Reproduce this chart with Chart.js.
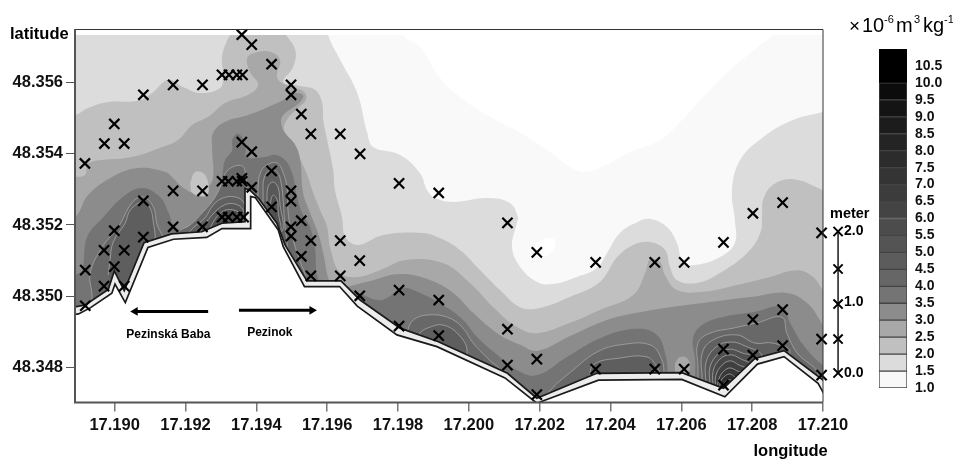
<!DOCTYPE html>
<html>
<head>
<meta charset="utf-8">
<style>
html,body{margin:0;padding:0;background:#fff;width:953px;height:460px;overflow:hidden}
#map{position:absolute;left:0;top:0}
#bar{position:absolute;left:860px;top:40px}
#meter{position:absolute;left:826px;top:200px}
</style>
<script src="https://cdn.jsdelivr.net/npm/chart.js@4/dist/chart.umd.min.js"></script>
</head>
<body>
<canvas id="map" width="953" height="460"></canvas>
<canvas id="bar" width="93" height="360"></canvas>
<canvas id="meter" width="60" height="200"></canvas>
<script>
// axis ticks
const lonTicks = [17.190,17.192,17.194,17.196,17.198,17.200,17.202,17.204,17.206,17.208,17.210];
const latTicks = [48.348,48.350,48.352,48.354,48.356];
// measurement sites [lon, lat]
const sites = [[17.19359,48.35735],[17.19387,48.35707],[17.19443,48.35652],[17.19303,48.35622],[17.19323,48.35622],[17.19345,48.35622],[17.19361,48.35622],
[17.19498,48.35594],[17.19498,48.35566],[17.19527,48.35512],[17.19554,48.35456],[17.19637,48.35456],[17.19693,48.354],[17.19803,48.35317],[17.19915,48.3529],
[17.19165,48.35594],[17.19248,48.35594],[17.19081,48.35566],[17.18999,48.35484],[17.18971,48.35429],[17.19027,48.35429],[17.18916,48.35373],
[17.19359,48.35433],[17.19387,48.35406],[17.19443,48.35352],[17.19303,48.35323],[17.19321,48.35323],[17.19345,48.35323],[17.19359,48.35331],[17.1936,48.35323],[17.19387,48.35306],
[17.19165,48.35296],[17.19248,48.35296],[17.19081,48.35268],[17.19498,48.35296],[17.19498,48.35267],[17.19443,48.35251],
[17.19303,48.35222],[17.19321,48.35222],[17.19345,48.35222],[17.19364,48.35222],[17.19527,48.35212],[17.19498,48.35195],[17.19165,48.35195],[17.19248,48.35195],
[17.18999,48.35184],[17.19081,48.35166],[17.19498,48.35169],[17.19554,48.35156],[17.19637,48.35156],[17.1897,48.35129],[17.19027,48.35129],[17.19527,48.35112],[17.19692,48.351],
[17.18999,48.35083],[17.18917,48.35073],[17.19554,48.35057],[17.19637,48.35057],[17.1897,48.35028],[17.19027,48.35028],[17.19692,48.35001],[17.19803,48.35017],[17.19915,48.34989],
[17.18917,48.34973],[17.19803,48.34916],[17.19915,48.34889],
[17.20109,48.35206],[17.20192,48.35123],[17.20358,48.35095],[17.20525,48.35095],[17.20608,48.35095],[17.20719,48.35151],[17.20802,48.35233],[17.20886,48.35263],[17.20996,48.35178],
[17.20109,48.34907],[17.20109,48.34806],[17.20192,48.34823],[17.20192,48.34723],[17.20358,48.34795],[17.20525,48.34795],[17.20608,48.34795],[17.20719,48.34851],[17.20719,48.3475],
[17.20802,48.34934],[17.20802,48.34834],[17.20886,48.34962],[17.20886,48.34861],[17.20996,48.34879],[17.20996,48.34778]];

// contour outlines: offsets [east, north] in 0.001 deg from 17.190 E, 48.348 N
const level10 = [[-1.54,9.76],[8.14,9.76],[8.14,9.34],[8.62,9.0],[9.19,8.13],[9.75,7.6],[10.6,7.04],[11.45,6.59],[12.29,6.05],[12.86,5.63],[13.2,5.49],[13.7,5.6],[14.55,6.05],[15.4,6.39],[15.97,6.9],[16.53,7.51],[17.38,8.36],[18.23,9.06],[18.57,9.34],[18.65,9.76],[20.48,9.76],[20.48,-1.48],[-1.54,-1.48]];
const level15 = [[6.03,9.76],[6.03,9.34],[6.37,8.64],[6.85,7.71],[7.13,6.59],[7.3,6.19],[8.06,5.97],[8.62,5.46],[8.82,4.98],[9.05,4.76],[9.56,4.65],[10.52,4.76],[11.16,4.62],[11.39,4.22],[11.36,4.08],[11.22,3.38],[11.45,2.82],[11.93,2.4],[12.38,2.34],[13.05,2.54],[13.62,2.79],[13.9,3.21],[14.27,3.78],[14.75,4.08],[15.12,4.17],[15.6,3.94],[15.88,3.49],[16.05,2.93],[16.44,2.88],[17.09,3.1],[17.51,3.49],[17.51,4.14],[17.43,4.98],[17.66,5.83],[18.31,6.47],[19.15,6.95],[20.0,7.18],[20.48,7.29],[20.48,-1.48],[-1.54,-1.48],[-1.54,9.76]];
const level20 = [[-1.54,7.09],[-1.12,7.09],[-0.75,7.29],[-0.18,7.46],[0.66,7.49],[1.06,7.71],[1.51,8.08],[1.93,7.88],[2.41,7.71],[2.98,7.85],[3.06,8.16],[3.03,8.72],[3.18,9.2],[3.35,9.48],[3.35,9.76],[4.67,9.76],[4.81,9.4],[5.1,8.92],[5.04,8.44],[4.76,8.02],[5.24,7.91],[5.66,7.8],[5.86,7.43],[5.89,6.95],[6.0,6.39],[6.17,5.55],[6.22,4.98],[6.42,4.22],[6.51,3.66],[6.87,3.44],[7.58,3.72],[8.62,3.78],[9.19,3.63],[9.75,3.3],[10.32,2.73],[10.88,2.17],[11.45,1.69],[12.01,1.67],[12.86,1.98],[13.7,2.4],[14.19,3.1],[14.64,3.44],[15.12,3.52],[15.54,3.3],[15.68,2.82],[15.88,2.45],[16.44,2.37],[17.09,2.65],[17.86,3.21],[18.23,3.78],[18.28,4.28],[18.31,4.71],[18.59,5.13],[19.15,5.29],[20.0,4.98],[20.48,4.79],[20.48,-1.48],[-1.54,-1.48]];
const level25 = [[-1.54,5.35],[-1.12,5.35],[-0.83,5.41],[-0.75,5.74],[0.49,5.91],[1.34,6.19],[1.79,6.39],[2.19,6.81],[2.64,7.04],[3.12,7.43],[3.77,7.66],[4.05,7.94],[3.82,8.3],[3.74,8.69],[3.97,8.84],[4.39,8.87],[4.67,8.64],[4.59,8.13],[4.9,7.91],[5.32,7.77],[5.41,7.54],[5.18,7.29],[4.9,7.01],[4.78,6.67],[5.04,6.25],[5.29,5.74],[5.46,5.35],[5.58,4.98],[5.8,4.42],[6.0,3.94],[6.08,3.38],[6.37,2.65],[6.85,2.54],[7.49,2.73],[8.26,3.02],[9.27,2.93],[10.03,2.37],[10.69,1.69],[11.36,1.13],[11.93,0.96],[12.86,1.25],[13.7,1.61],[14.64,2.03],[14.98,2.65],[15.12,3.04],[15.4,2.96],[15.54,2.59],[15.88,2.17],[16.61,2.12],[17.57,2.31],[18.5,2.54],[19.27,2.73],[19.72,2.54],[20.06,2.12],[20.48,1.89],[20.48,-1.48],[-1.54,-1.48]];
const level30 = [[-1.54,4.22],[-1.12,4.22],[-0.75,4.84],[-0.07,5.35],[0.66,5.6],[1.43,5.49],[1.62,5.35],[1.91,5.07],[2.27,4.9],[2.64,5.07],[2.78,5.35],[2.75,6.19],[2.78,6.59],[3.12,6.9],[3.77,7.09],[4.59,7.43],[4.9,7.6],[5.1,7.71],[5.32,7.65],[5.24,7.46],[4.76,7.09],[4.7,6.87],[4.81,6.59],[5.1,6.25],[5.24,5.83],[5.32,4.9],[5.52,4.34],[5.74,3.78],[5.89,3.21],[6.03,2.51],[6.22,2.12],[6.56,2.26],[7.3,2.45],[8.06,2.62],[8.91,2.45],[9.56,2.09],[10.12,1.53],[10.8,0.96],[11.45,0.63],[11.93,0.46],[12.86,0.88],[13.9,1.33],[14.75,1.53],[15.68,1.69],[16.61,1.81],[18.02,1.98],[18.98,2.09],[19.55,1.81],[19.91,1.33],[20.2,0.82],[20.48,0.63],[20.48,-1.48],[-1.54,-1.48]];
const level35a = [[-1.54,2.17],[-1.12,2.59],[-0.92,2.73],[-0.78,3.66],[-0.32,4.22],[0.3,4.84],[0.78,5.04],[1.28,4.79],[1.51,4.37],[1.71,3.92],[2.07,3.92],[2.47,4.34],[2.84,4.62],[3.01,5.12],[3.06,5.55],[3.12,5.83],[3.32,6.11],[3.32,6.39],[3.49,6.56],[3.71,6.25],[3.71,5.91],[4.25,5.91],[4.53,5.97],[4.81,5.83],[5.01,5.46],[5.15,4.79],[5.29,4.34],[5.52,3.94],[5.66,3.3],[5.74,2.51],[6.08,2.17],[6.51,2.12],[6.87,2.09],[7.41,1.89],[7.69,1.95],[8.12,2.23],[8.62,2.09],[9.27,1.75],[9.84,1.33],[10.23,0.85],[10.8,0.35],[11.36,-0.08],[11.93,-0.22],[12.77,0.29],[13.79,0.85],[14.75,1.08],[15.31,0.91],[15.54,0.4],[15.62,-0.24],[15.62,-1.48],[-1.54,-1.48]];
const level35b = [[16.39,-0.24],[16.39,0.21],[16.33,0.82],[16.59,1.19],[17.29,1.44],[18.02,1.55],[18.84,1.7],[19.07,1.25],[19.44,0.63],[20.0,0.06],[20.48,-0.13],[20.48,-1.48],[16.39,-1.48]];
const level40a = [[-0.64,1.61],[-0.64,2.03],[-0.69,2.65],[-0.35,3.38],[0.1,3.94],[0.49,4.62],[0.8,4.79],[1.09,4.51],[1.2,4.0],[1.37,3.63],[1.43,3.02],[0.16,1.61]];
const level45a = [[-0.18,2.59],[-0.13,3.02],[-0.04,3.52],[0.3,4.06],[0.44,4.42],[0.8,4.65],[1.0,4.48],[1.09,4.09],[1.14,3.58],[1.0,2.73],[0.16,1.89]];
const level40b = [[1.79,3.58],[1.79,3.8],[2.13,4.0],[2.5,4.37],[2.84,4.79],[3.03,5.18],[3.2,5.55],[3.6,5.66],[3.71,5.32],[3.74,4.93],[3.82,3.58]];
const level45b = [[2.07,3.58],[2.13,3.83],[2.55,4.2],[2.78,4.56],[3.06,4.76],[3.4,4.79],[3.63,4.65],[3.74,4.28],[3.82,3.58]];
const level50b = [[2.36,3.58],[2.41,3.8],[2.75,4.28],[3.09,4.56],[3.4,4.59],[3.63,4.42],[3.68,4.09],[3.77,3.58]];
const level55b = [[2.64,3.58],[2.7,3.92],[3.03,4.37],[3.37,4.42],[3.6,4.25],[3.68,4.03],[3.71,3.58]];
const level40c = [[4.05,4.7],[4.05,5.04],[4.11,5.46],[4.3,5.69],[4.59,5.74],[4.76,5.46],[4.87,5.04],[4.9,4.34],[5.04,3.58],[5.24,2.96],[5.38,2.51],[5.24,2.17],[4.39,3.58]];
const level45c = [[4.19,4.56],[4.19,4.84],[4.22,5.32],[4.39,5.55],[4.59,5.49],[4.7,5.18],[4.76,4.65],[4.81,3.94],[4.87,3.44],[4.81,3.02],[4.53,3.86]];
const level50c = [[4.3,4.56],[4.33,5.07],[4.47,5.21],[4.62,5.04],[4.67,4.56],[4.76,3.92],[4.62,3.72]];
const level55c = [[4.39,4.42],[4.39,4.56],[4.47,4.84],[4.59,4.7],[4.62,4.34],[4.7,3.86],[4.56,3.97]];
const level40d = [[8.2,0.63],[8.28,1.05],[8.43,1.33],[8.82,1.47],[9.39,1.41],[9.81,1.13],[10.12,0.68],[10.52,0.26],[10.88,-0.13],[10.03,-0.35],[8.62,0.49]];
const level45d = [[8.56,0.63],[8.62,0.96],[8.91,1.13],[9.27,1.19],[9.67,0.96],[9.95,0.49],[9.75,0.06],[9.19,0.49]];
const level40e = [[12.15,-1.06],[12.24,-0.72],[12.94,-0.08],[13.62,0.43],[14.27,0.63],[15.12,0.63],[15.45,0.21],[15.51,-0.24],[15.51,-0.92]];
const level45e = [[13.42,-0.5],[13.51,0.06],[14.27,0.26],[15.03,0.29],[15.31,0.01],[15.4,-0.24],[15.12,-0.64]];
const level40f = [[16.47,-0.5],[16.47,0.01],[16.47,0.68],[16.81,0.96],[17.46,1.1],[18.14,1.25],[18.84,1.41],[18.98,0.96],[19.27,0.4],[19.86,-0.21],[19.35,-0.78],[17.09,-0.78]];
const level45f = [[16.59,-0.36],[16.59,0.4],[16.9,0.77],[17.57,0.91],[18.08,0.68],[18.59,0.68],[19.07,0.43],[18.5,-0.36],[17.09,-0.78]];
const level50f = [[16.7,-0.5],[16.7,0.15],[16.98,0.57],[17.38,0.71],[17.8,0.6],[18.28,0.29],[17.8,-0.78]];
const level55f = [[16.81,-0.5],[16.81,0.01],[17.07,0.4],[17.38,0.51],[17.72,0.4],[18.08,0.26],[17.66,-0.78]];
const level60f = [[16.9,-0.58],[16.9,-0.1],[17.09,0.23],[17.38,0.35],[17.69,0.23],[17.94,0.06],[17.51,-0.78]];
const level65f = [[16.96,-0.58],[16.98,-0.21],[17.15,0.06],[17.38,0.18],[17.63,0.06],[17.86,-0.07],[17.51,-0.78]];
const level70f = [[17.01,-0.58],[17.07,-0.3],[17.21,-0.1],[17.38,-0.02],[17.57,-0.1],[17.77,-0.21],[17.46,-0.78]];
const level75f = [[17.07,-0.58],[17.12,-0.38],[17.24,-0.24],[17.38,-0.19],[17.51,-0.27],[17.69,-0.35],[17.43,-0.78]];
const level80f = [[17.12,-0.64],[17.18,-0.47],[17.29,-0.38],[17.38,-0.35],[17.46,-0.41],[17.6,-0.5],[17.38,-0.78]];
const level85f = [[17.18,-0.64],[17.24,-0.55],[17.32,-0.5],[17.4,-0.53],[17.51,-0.58],[17.32,-0.78]];
const islandLow = [[2.13,5.18],[2.27,5.49],[2.5,5.46],[2.64,5.18],[2.61,4.84],[2.33,4.82],[2.16,4.93]];
const islandSmall = [[3.68,6.19],[3.97,6.31],[4.11,6.16],[3.91,5.97],[3.74,5.97]];
const islandRight = [[15.82,0.12],[15.96,0.29],[16.16,0.26],[16.25,-0.02],[16.1,-0.22],[15.82,-0.22]];
const islandWhite = [[11.87,3.49],[12.21,3.63],[12.43,3.58],[12.38,3.3],[12.01,3.07],[11.87,3.3]];
const topMask = [[-1.6,9.34],[20.5,9.34],[20.5,10],[-1.6,10]];
// terrain edge
const edgeUpper = [[-1.54,1.7],[-1.12,1.7],[-0.83,1.75],[-0.18,2.19],[-0.01,2.71],[0.27,2.15],[0.83,3.5],[1.61,3.75],[2.46,3.81],[3.03,4.05],[3.68,4.09],[3.68,5.03],[3.82,4.98],[4.06,4.75],[4.58,4.05],[4.81,3.44],[5.43,2.43],[6.39,2.43],[6.93,1.89],[8.06,1.1],[9.14,0.72],[11.09,-0.17],[11.92,-0.87],[13.61,-0.17],[16.01,-0.15],[17.19,-0.59],[18.08,0.25],[18.9,0.47],[20.0,-0.36],[20.48,-0.78],[20.48,-1.6],[-1.54,-1.6]];
const edgeLower = [[-1.54,1.44],[-1.02,1.5],[-0.69,1.67],[-0.08,2.08],[0.01,2.34],[0.3,1.82],[0.94,3.37],[1.66,3.6],[2.6,3.65],[3.03,3.9],[3.84,3.9],[3.84,4.8],[3.97,4.77],[4.62,3.86],[4.76,3.39],[5.36,2.27],[6.35,2.27],[6.85,1.72],[7.97,0.91],[9.1,0.58],[11.02,-0.3],[11.92,-1.01],[13.66,-0.36],[16.01,-0.34],[17.23,-0.83],[18.15,0.09],[18.9,0.3],[19.86,-0.45],[20.0,-0.7],[20.48,-1.6],[-1.54,-1.6]];
// extras
const arrowWest = [[2.64,1.57],[0.58,1.57]];
const arrowEast = [[3.51,1.6],[5.57,1.6]];
// metre scale (separate small axis)
const meterMarks = [2.0,1.47,0.975,0.48,0.0];
const meterTicks = [0,1,2];
// colour key
const keyEdges = [1,1.5,2,2.5,3,3.5,4,4.5,5,5.5,6,6.5,7,7.5,8,8.5,9,9.5,10,11];
const keyColors = ['#f8f8f8','#dcdcdc','#c0c0c0','#a8a8a8','#8c8c8c','#747474','#666666','#5c5c5c','#545454','#4c4c4c','#444444','#3c3c3c','#343434','#2c2c2c','#242424','#1c1c1c','#141414','#0c0c0c','#000000'];
const keyTicks = [1,1.5,2,2.5,3,3.5,4,4.5,5,5.5,6,6.5,7,7.5,8,8.5,9,9.5,10,10.5];

const LON0 = 17.19, LAT0 = 48.348;
const toPts = a => a.map(p => ({x: LON0 + p[0]/1000, y: LAT0 + p[1]/1000}));
const FONT = '"Liberation Sans", Arial, sans-serif';
const INK = '#1a1a1a';
const THIN = '#a6a6a6';

const layers = [
  [level10,'#f9f9f9',0,0.4],[level15,'#dcdcdc',0,0.4],[islandWhite,'#ffffff',0,0.4],[level20,'#c0c0c0',0,0.4],[level25,'#a8a8a8',0,0.4],[level30,'#8c8c8c',0,0.4],[islandLow,'#c4c4c4',0,0.4],
  [level35a,'#747474',0,0.4],[level35b,'#747474',0,0.4],[islandSmall,'#8c8c8c',0,0.4],[islandRight,'#a8a8a8',0,0.4],
  [level40a,'#666666',.8,0.4],[level45a,'#5e5e5e',.8,0.4],[level40b,'#686868',.8,0.4],[level45b,'#606060',.8,0.4],[level50b,'#585858',.8,0.4],[level55b,'#505050',.8,0.4],
  [level40c,'#686868',.8,0.4],[level45c,'#606060',.8,0.4],[level50c,'#585858',.8,0.4],[level55c,'#505050',.8,0.4],
  [level40d,'#686868',.8,0.4],[level45d,'#5e5e5e',.8,0.4],[level40e,'#686868',.8,0.4],[level45e,'#5e5e5e',.8,0.4],[level40f,'#686868',.8,0.4],[level45f,'#606060',.8,0.4],
  [level50f,'#585858',.8,0.4],[level55f,'#505050',.8,0.4],[level60f,'#484848',.8,0.4],[level65f,'#404040',.8,0.4],[level70f,'#383838',.8,0.4],[level75f,'#303030',.8,0.4],[level80f,'#282828',.8,0.4],[level85f,'#202020',.8,0.4]
];

const paint = [];
layers.forEach(l => paint.push({
  data: toPts(l[0]), showLine:true, fill:'shape', backgroundColor:l[1],
  borderColor: l[2] ? THIN : 'rgba(0,0,0,0)', borderWidth:l[2], tension:l[3], pointRadius:0
}));
paint.push({data:toPts(topMask),showLine:true,fill:'shape',backgroundColor:'#fff',borderWidth:0,borderColor:'rgba(0,0,0,0)',tension:0,pointRadius:0});
paint.push({data:toPts(edgeUpper),showLine:true,fill:'shape',backgroundColor:'#ececec',borderColor:INK,borderWidth:1.7,tension:0,pointRadius:0});
paint.push({data:toPts(edgeLower),showLine:true,fill:'shape',backgroundColor:'#ffffff',borderColor:INK,borderWidth:1.7,tension:0,pointRadius:0});
paint.push({data:toPts(arrowWest),showLine:true,borderColor:'#000',borderWidth:3,tension:0,pointStyle:'triangle',pointRotation:-90,pointRadius:[0,5],backgroundColor:'#000',pointBorderWidth:0});
paint.push({data:toPts(arrowEast),showLine:true,borderColor:'#000',borderWidth:3,tension:0,pointStyle:'triangle',pointRotation:90,pointRadius:[0,5],backgroundColor:'#000',pointBorderWidth:0});
paint.push({data:sites.map(p=>({x:p[0],y:p[1]})),pointStyle:'crossRot',pointRadius:7.2,pointBorderWidth:2.2,borderColor:'#000',backgroundColor:'#000',showLine:false,clip:false});
paint.forEach((d,i)=>{d.order = paint.length - i;});

const annotate = {
  id:'annotate',
  afterDatasetsDraw(c){
    const {ctx,chartArea:a,scales:{x,y}} = c;
    ctx.save();
    // frame
    ctx.strokeStyle='#333'; ctx.lineWidth=1; ctx.beginPath();
    ctx.moveTo(a.left,a.top+.5); ctx.lineTo(a.right,a.top+.5); ctx.lineTo(a.right,a.bottom); ctx.stroke();
    ctx.strokeStyle='#555'; ctx.lineWidth=2; ctx.beginPath();
    ctx.moveTo(a.left,a.top); ctx.lineTo(a.left,a.bottom); ctx.lineTo(a.right,a.bottom); ctx.stroke();
    const put=(t,px,py,font,al)=>{ctx.font=font;ctx.fillStyle='#000';ctx.textAlign=al||'left';ctx.textBaseline='middle';ctx.fillText(t,px,py);};
    const B=s=>'bold '+s+'px '+FONT, R=s=>s+'px '+FONT;
    put('latitude',10,34,B(16.5));
    put('longitude',753.5,451.5,B(16.5));
    put('Pezinská Baba',x.getPixelForValue(LON0+0.33/1000),y.getPixelForValue(LAT0+0.92/1000),B(12));
    put('Pezinok',x.getPixelForValue(LON0+3.74/1000),y.getPixelForValue(LAT0+0.96/1000),B(12));
    put('meter',830,214,B(14.5));
    put('×',849,27,R(19)); put('10',862,26,R(20)); put('-6',884,20,R(11));
    put('m',896,26,R(20)); put('3',914,20,R(11)); put('kg',923,26,R(20)); put('-1',944,20,R(11));
    ctx.restore();
  }
};

new Chart(document.getElementById('map'),{
  type:'scatter',
  data:{datasets:paint},
  plugins:[annotate],
  options:{
    responsive:false,animation:false,
    layout:{padding:{left:0,top:29,right:130,bottom:0}},
    elements:{line:{capBezierPoints:false}},
    plugins:{legend:{display:false},tooltip:{enabled:false},filler:{drawTime:'beforeDatasetDraw'}},
    scales:{
      x:{type:'linear',min:17.18888,max:17.21,
        afterBuildTicks(s){s.ticks=lonTicks.map(v=>({value:v}));},
        afterFit(s){s.height=57.5;},
        border:{display:false},
        grid:{drawOnChartArea:false,tickLength:9,color:'#777',lineWidth:1.5},
        ticks:{autoSkip:false,maxRotation:0,padding:4,color:'#111',font:{family:FONT,size:16.5,weight:'bold'},callback:v=>v.toFixed(3)}},
      y:{type:'linear',min:48.34701,max:48.35751,
        afterBuildTicks(s){s.ticks=latTicks.map(v=>({value:v}));},
        afterFit(s){s.width=75;},
        border:{display:false},
        grid:{drawOnChartArea:false,tickLength:9,color:'#555',lineWidth:1},
        ticks:{padding:3,color:'#111',font:{family:FONT,size:16.5,weight:'bold'},callback:v=>v.toFixed(3)}}
    }
  }
});

new Chart(document.getElementById('bar'),{
  type:'bar',
  data:{labels:['key'],datasets:keyColors.map((c,i)=>({
    data:[[keyEdges[i],keyEdges[i+1]]],backgroundColor:c,borderColor:i===keyColors.length-1?'#000':'#444',borderWidth:1,borderSkipped:false,grouped:false,barPercentage:1,categoryPercentage:1
  }))},
  options:{
    responsive:false,animation:false,
    layout:{padding:{left:19,top:9,right:0,bottom:12}},
    plugins:{legend:{display:false},tooltip:{enabled:false}},
    scales:{
      x:{display:false},
      y:{position:'right',min:1,max:11,
        afterBuildTicks(s){s.ticks=keyTicks.map(v=>({value:v}));},
        afterFit(s){s.width=46;s.paddingTop=0;s.paddingBottom=0;},
        border:{display:false},grid:{display:false,drawTicks:false},
        ticks:{padding:8,color:'#111',autoSkip:false,font:{family:FONT,size:14,weight:'bold'},callback:v=>v.toFixed(1)}}
    }
  }
});

new Chart(document.getElementById('meter'),{
  type:'scatter',
  data:{datasets:[{data:meterMarks.map(v=>({x:0.475,y:v})),showLine:true,borderColor:INK,borderWidth:1.5,tension:0,
    pointStyle:'crossRot',pointRadius:6.5,pointBorderWidth:2,pointBorderColor:'#000',clip:false}]},
  options:{
    responsive:false,animation:false,
    layout:{padding:{left:0,top:17.35,right:0,bottom:12.85}},
    plugins:{legend:{display:false},tooltip:{enabled:false}},
    scales:{
      x:{display:false,min:0,max:1},
      y:{position:'right',min:-0.2,max:2.2,
        afterBuildTicks(s){s.ticks=meterTicks.map(v=>({value:v}));},
        afterFit(s){s.width=44;s.paddingTop=0;s.paddingBottom=0;},
        border:{display:false},grid:{display:false,drawTicks:false},
        ticks:{padding:2,color:'#000',font:{family:FONT,size:14,weight:'bold'},callback:v=>v.toFixed(1)}}
    }
  }
});
</script>
</body>
</html>
